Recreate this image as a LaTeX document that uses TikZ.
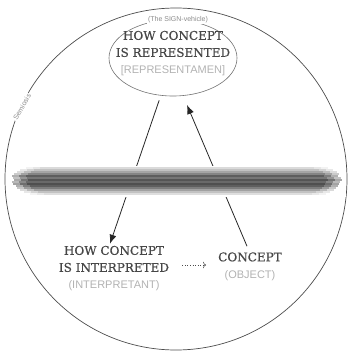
\documentclass[tikz,border=0pt]{standalone}
\usepackage{fontspec}
\setmainfont{DejaVu Serif}
\newfontfamily\headfont{DejaVu Serif}[FakeBold=0.6]
\newfontfamily\tagfont{Liberation Sans}
\usetikzlibrary{shapes.geometric,arrows.meta}

\begin{document}
\begin{tikzpicture}[x=1pt,y=-1pt,
  rim/.style={draw=black!70,line width=0.7pt},
  link/.style={draw=black!85,line width=0.8pt,-{Latex[length=9pt,width=7pt]}},
  dotlink/.style={draw=black!70,line width=0.6pt,dotted,-{To[length=3pt]}},
  title/.style={align=center,text=black!72,inner sep=2pt,font=\headfont\fontsize{12}{17}\selectfont},
  note/.style={text=black!45,fill=white,inner sep=1pt,font=\tagfont\fontsize{7}{8}\selectfont}]
  \useasboundingbox (0,0) rectangle (349,354);
  % outer circle and sign ellipse
  \draw[rim] (176,179) circle (171);
  \node[ellipse,draw=black!55,line width=0.6pt,minimum width=128pt,minimum height=76pt] (sign) at (173,58) {};
  \node[title] (signtext) at (173,53.5) {HOW CONCEPT\\IS REPRESENTED\\{\tagfont\fontsize{11}{17}\selectfont\color{black!30}[REPRESENTAMEN]}};
  \node[note] (vehicle) at (178,20) {(The SIGN-vehicle)};
  \node[note,rotate=60] (semiosis) at (22,107) {Semiosis};
  % the two lower corners
  \node[title] (interp) at (114,268.5) {HOW CONCEPT\\IS INTERPRETED\\{\tagfont\fontsize{11}{17}\selectfont\color{black!30}(INTERPRETANT)}};
  \node[title] (object) at (250,266.5) {CONCEPT\\{\tagfont\fontsize{11}{17}\selectfont\color{black!30}(OBJECT)}};
  % arrows
  \draw[link,shorten <=5pt] (sign.252) -- ([xshift=-4pt]interp.north);
  \draw[link,shorten >=10pt] ([xshift=-3pt,yshift=4pt]object.north) -- (sign.285);
  \draw[dotlink,shorten <=11pt,shorten >=10pt] ([yshift=3.5pt]interp.east) -- ([yshift=3.5pt]interp.east -| object.west);
  % blurred band
  \fill[white] (10,166) rectangle (346,197);
  \foreach \y/\a/\b/\o in {168/26/328/.06,170/20/333/.1,172/17/337/.16,174/14/339/.24,
    176/12/338/.36,178/13/341/.28,180/14/342/.4,182/12/340/.32,184/13/339/.42,
    186/16/338/.36,188/17/336/.26,190/20/334/.17,192/24/330/.1,194/30/326/.05}
    \foreach \k in {0,7,14}
      \draw[black!85,line width=2.1pt,opacity=\o] (\a+\k,\y) -- (\b-\k,\y);
\end{tikzpicture}
\end{document}
